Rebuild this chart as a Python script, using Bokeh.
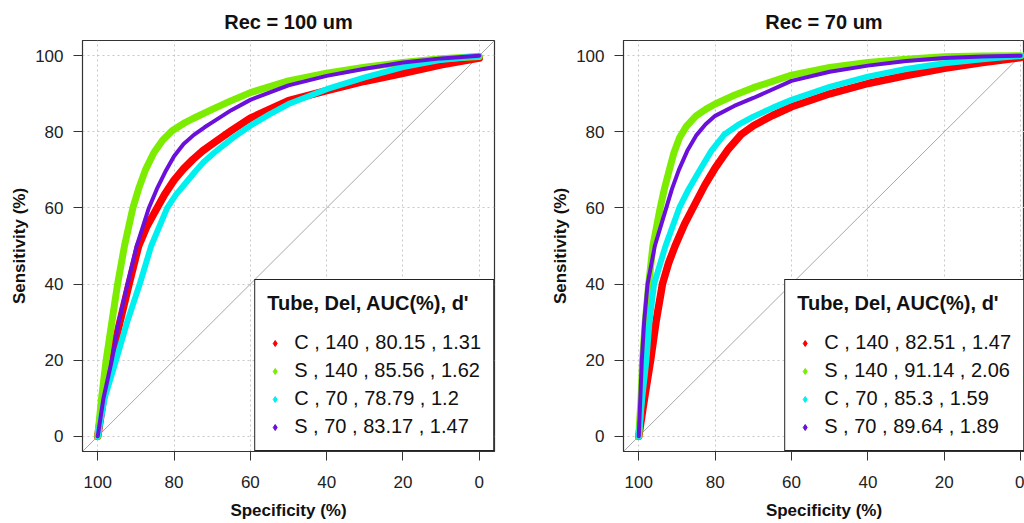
import numpy as np
from bokeh.plotting import figure
from bokeh.models import Range1d, Legend, LegendItem, Slope, ColumnDataSource
from bokeh.layouts import row
from bokeh.embed import file_html
from bokeh.resources import INLINE

# ---------------- data ----------------
ticks = [0, 20, 40, 60, 80, 100]
titles = ["Rec = 100 um", "Rec = 70 um"]
legend_title = "Tube, Del, AUC(%), d'"
tubes = ["C", "S", "C", "S"]
dels = [140, 140, 70, 70]
auc_100 = [80.15, 85.56, 78.79, 83.17]
dprime_100 = [1.31, 1.62, 1.2, 1.47]
auc_70 = [82.51, 91.14, 85.3, 89.64]
dprime_70 = [1.47, 2.06, 1.59, 1.89]

# Rec = 100 um panel (specificity %, sensitivity %)
spec_100_C140 = [100, 98.5, 96.5, 94.2, 91.8, 89.3, 87.2, 85, 82.5, 80, 77.5, 75, 72.5, 70, 65, 60, 50, 40, 30, 20, 10, 0]
sens_100_C140 = [0, 10, 20, 30, 40, 50, 55, 59, 63.5, 67.3, 70.3, 72.8, 75, 76.8, 80.3, 83.6, 88.2, 90.8, 93.3, 95.4, 97.6, 99.4]
spec_100_S140 = [100, 99, 97.8, 96.3, 94.8, 93, 90.8, 89.3, 87.5, 85.3, 83, 80.5, 77.5, 75, 70, 65, 60, 50, 40, 30, 20, 10, 0]
sens_100_S140 = [0, 10, 20, 30, 40, 50, 60, 65, 70, 74.5, 77.8, 80.3, 82.2, 83.5, 85.9, 88.2, 90.3, 93.4, 95.4, 97, 98.2, 99.2, 99.8]
spec_100_C70 = [100, 98.2, 95.2, 92.3, 89, 86, 81.8, 79.5, 77, 74.5, 72.3, 69.5, 67, 64.5, 62, 60, 55, 50, 40, 30, 20, 10, 0]
sens_100_C70 = [0, 10, 20, 30, 40, 50, 60, 63.5, 66.5, 69.5, 72, 74.5, 76.5, 78.5, 80.2, 81.6, 84.6, 87.3, 91.2, 94.3, 97, 98.9, 100]
spec_100_S70 = [100, 98.5, 96.3, 94.5, 92.2, 89.8, 86.6, 84.5, 82.3, 80, 77.5, 74.8, 72, 70, 65, 60, 50, 40, 30, 20, 10, 0]
sens_100_S70 = [0, 10, 20, 30, 40, 50, 60, 65, 69.5, 73.6, 76.8, 79.2, 81.2, 82.5, 85.7, 88.4, 92.2, 94.7, 96.6, 98.2, 99.3, 100]

# Rec = 70 um panel
spec_70_C140 = [100, 98.5, 96.9, 95.5, 93.8, 92.2, 90.5, 88, 85.3, 82.7, 80, 76.5, 73.2, 70, 65, 60, 50, 40, 30, 20, 10, 0]
sens_70_C140 = [0, 10, 20, 30, 40, 45.5, 50, 55.8, 61, 66, 70.5, 75.5, 79.3, 81.6, 84.3, 86.6, 90, 92.7, 94.8, 96.7, 98.2, 99.5]
spec_70_S140 = [100, 99.4, 99, 98.3, 97.4, 96.3, 94.4, 93.3, 92, 90.8, 89.3, 87.5, 85, 82.5, 80, 75, 70, 60, 50, 40, 30, 20, 10, 0]
sens_70_S140 = [0, 10, 20, 30, 40, 50, 60, 65, 70, 74.5, 78.5, 81.5, 84.2, 85.9, 87.3, 89.6, 91.6, 94.9, 96.9, 98.2, 99.1, 99.7, 99.9, 100]
spec_70_C70 = [100, 99.1, 98, 97.2, 96, 93, 89.4, 86.9, 84, 81, 77.6, 74, 70, 65, 60, 50, 40, 30, 20, 10, 0]
sens_70_C70 = [0, 10, 20, 30, 40, 50, 60, 65, 70, 75, 79.3, 81.8, 84, 86.3, 88.4, 91.8, 94.5, 96.5, 98, 99.1, 100]
spec_70_S70 = [100, 99.6, 99.2, 98.6, 97.7, 95.8, 92.8, 91.3, 89.5, 87.3, 85, 82.5, 80, 75, 70, 60, 50, 40, 30, 20, 10, 0]
sens_70_S70 = [0, 10, 20, 30, 40, 50, 60, 65, 70, 75, 79, 82, 84.2, 86.8, 88.9, 93.4, 95.8, 97.4, 98.6, 99.4, 99.8, 100]

# ---------------- styling ----------------
FONT = "Liberation Sans"
colors = ["#FF0000", "#7CEC00", "#00F0F0", "#6A10DA"]
widths = [7.5, 7, 6, 4]


def make_panel(title, specs, senss, aucs, dps, width, border_left, border_right, x_end):
    p = figure(width=width, height=523,
               x_range=Range1d(104, x_end), y_range=Range1d(-4, 104),
               output_backend="svg", toolbar_location=None,
               min_border_left=border_left, min_border_right=border_right,
               min_border_top=39, min_border_bottom=72,
               title=title, background_fill_color="white", border_fill_color="white")
    p.title.text_font = FONT
    p.title.text_font_size = "20px"
    p.title.text_font_style = "bold"
    p.title.align = "center"
    p.title.text_color = "#111111"
    p.title.standoff = 16

    p.outline_line_color = "#333333"
    p.outline_line_width = 1.2
    p.outline_line_alpha = 1

    for ax in (p.xaxis[0], p.yaxis[0]):
        ax.ticker = ticks
        ax.major_tick_out = 9
        ax.major_tick_in = 0
        ax.minor_tick_line_color = None
        ax.major_tick_line_color = "#333333"
        ax.axis_line_color = "#333333"
        ax.major_label_text_font = FONT
        ax.major_label_text_font_size = "17px"
        ax.major_label_text_color = "#222222"
        ax.major_label_standoff = 10
        ax.axis_label_text_font = FONT
        ax.axis_label_text_font_size = "17px"
        ax.axis_label_text_font_style = "bold"
        ax.axis_label_text_color = "#111111"
    p.xaxis.axis_label = "Specificity (%)"
    p.yaxis.axis_label = "Sensitivity (%)"
    p.xaxis.major_label_standoff = 15
    p.xaxis.axis_label_standoff = 10
    p.yaxis.axis_label_standoff = 3
    p.yaxis.major_label_orientation = "horizontal"

    p.grid.grid_line_color = "#C8C8C8"
    p.grid.grid_line_dash = "2 3"
    p.grid.grid_line_width = 1

    diag = Slope(gradient=-1, y_intercept=100, line_color="#A8A8A8",
                 line_width=1, level="underlay")
    p.add_layout(diag)

    for sx, sy, c, w in zip(specs, senss, colors, widths):
        p.line(sx, sy, line_color=c, line_width=w, line_join="round", line_cap="round")

    items = []
    for t, d, a, dp, c in zip(tubes, dels, aucs, dps, colors):
        src = ColumnDataSource(data=dict(x=np.array([np.nan]), y=np.array([np.nan])))
        r = p.scatter(x="x", y="y", source=src, marker="diamond", size=7,
                      fill_color=c, line_color=c)
        items.append(LegendItem(label=f"{t} , {d} , {a} , {dp}", renderers=[r], index=0))
    leg = Legend(items=items, location="bottom_right", title=legend_title,
                 margin=0, padding=12, spacing=5, glyph_width=15, glyph_height=20,
                 label_standoff=12, border_line_color="#222222", border_line_width=1.2,
                 border_line_alpha=1, background_fill_color="white", background_fill_alpha=1,
                 label_text_font=FONT, label_text_font_size="20px", label_text_color="#111111",
                 title_text_font=FONT, title_text_font_size="20px", title_text_font_style="bold",
                 title_text_color="#111111", title_standoff=16)
    p.add_layout(leg)
    return p


p1 = make_panel(titles[0],
                [spec_100_C140, spec_100_S140, spec_100_C70, spec_100_S70],
                [sens_100_C140, sens_100_S140, sens_100_C70, sens_100_S70],
                auc_100, dprime_100, width=547, border_left=82, border_right=53, x_end=-4)
p2 = make_panel(titles[1],
                [spec_70_C140, spec_70_S140, spec_70_C70, spec_70_S70],
                [sens_70_C140, sens_70_S140, sens_70_C70, sens_70_S70],
                auc_70, dprime_70, width=477, border_left=76, border_right=0, x_end=-1)

layout = row(p1, p2)
open("out.html", "w").write(file_html(layout, INLINE))
